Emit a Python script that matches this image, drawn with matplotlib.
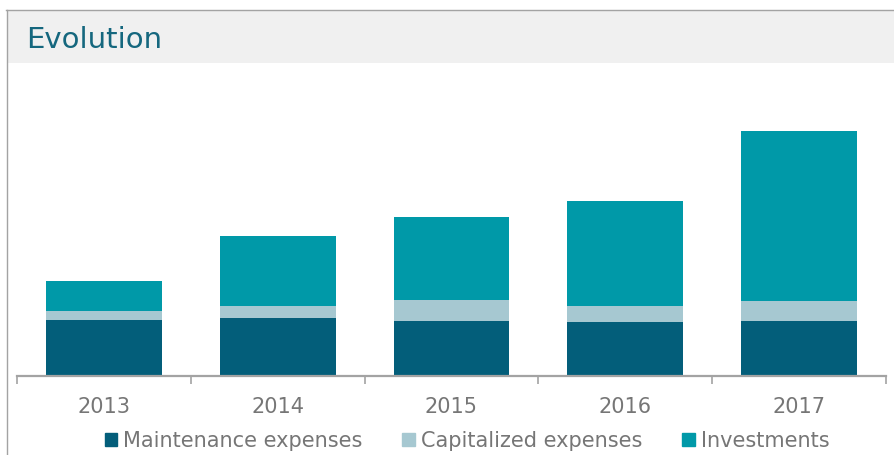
import numpy as np
import matplotlib
matplotlib.use('Agg')
import matplotlib.pyplot as plt
from matplotlib.patches import Patch, Rectangle
from matplotlib.lines import Line2D

years = ['2013', '2014', '2015', '2016', '2017']
maintenance = [56, 58, 55, 54, 55]
capitalized = [9, 12, 21, 16, 20]
investments = [30, 70, 83, 105, 170]

c_maint = '#035e7a'
c_cap = '#a6c8d1'
c_inv = '#0099a8'
grey = '#a3a3a3'
txt_grey = '#767676'

W, H = 894, 455
fig = plt.figure(figsize=(W / 100, H / 100), dpi=100)

# frame + title band
fig.patches.append(Rectangle((7 / W, 1 - 63 / H), 1, 53 / H, transform=fig.transFigure,
                             facecolor='#f0f0f0', edgecolor='none', zorder=0))
fig.lines.append(Line2D([6 / W, 1], [1 - 9.5 / H] * 2, transform=fig.transFigure, color=grey, lw=1))
fig.lines.append(Line2D([6.5 / W] * 2, [0, 1 - 9.5 / H], transform=fig.transFigure, color=grey, lw=1))
fig.text(26 / W, 1 - 47.5 / H, 'Evolution', fontsize=21, color='#15677e', va='baseline', ha='left')

ax = fig.add_axes([17 / W, 79 / H, (886 - 17) / W, 306 / H])
x = np.arange(len(years))
w = 0.667
m = np.array(maintenance)
c = np.array(capitalized)
i = np.array(investments)
ax.bar(x, m, w, color=c_maint, label='Maintenance expenses')
ax.bar(x, c, w, bottom=m, color=c_cap, label='Capitalized expenses')
ax.bar(x, i, w, bottom=m + c, color=c_inv, label='Investments')

ax.set_xlim(-0.5, len(years) - 0.5)
ax.set_ylim(0, 306)
ax.set_yticks([])
for s in ['top', 'right', 'left']:
    ax.spines[s].set_visible(False)
ax.spines['bottom'].set_color(grey)
ax.spines['bottom'].set_linewidth(1.6)

ax.set_xticks(x)
ax.set_xticklabels(years, fontsize=15, color=txt_grey)
ax.tick_params(axis='x', which='major', length=0, pad=15)
ax.set_xticks(np.arange(-0.5, len(years)), minor=True)
ax.tick_params(axis='x', which='minor', length=5.5, width=1.2, color=grey)
ax.patch.set_alpha(0)

handles = [Patch(color=c_maint), Patch(color=c_cap), Patch(color=c_inv)]
labels = ['Maintenance expenses', 'Capitalized expenses', 'Investments']
leg = fig.legend(handles, labels, loc='center', bbox_to_anchor=(467 / W, 14 / H),
                 ncol=3, frameon=False, fontsize=15, handlelength=0.6, handleheight=0.6,
                 handletextpad=0.3, columnspacing=1.9, borderpad=0, borderaxespad=0)
for t in leg.get_texts():
    t.set_color(txt_grey)

plt.savefig('out.png', dpi=100)
plt.close()
